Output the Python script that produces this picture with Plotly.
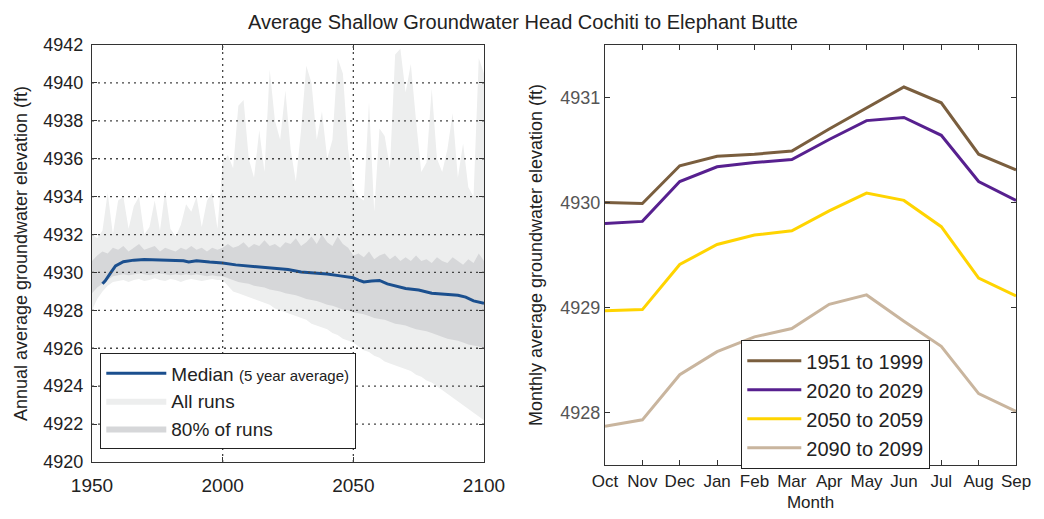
import plotly.graph_objects as go

# ---------------- Left panel data ----------------
median_years = [1954, 1955, 1957, 1959, 1962, 1966, 1970, 1975, 1980, 1985, 1987, 1989, 1990,
                1995, 2000, 2005, 2010, 2015, 2020, 2025, 2030, 2035, 2040, 2045, 2050, 2052,
                2054, 2057, 2060, 2063, 2066, 2070, 2075, 2080, 2085, 2090, 2093, 2096, 2100]
median_vals = [4929.4, 4929.55, 4929.95, 4930.35, 4930.57, 4930.65, 4930.69, 4930.68, 4930.66,
               4930.62, 4930.55, 4930.6, 4930.62, 4930.55, 4930.5, 4930.4, 4930.33, 4930.28,
               4930.22, 4930.15, 4930.03, 4929.97, 4929.92, 4929.82, 4929.72, 4929.6, 4929.5,
               4929.55, 4929.58, 4929.4, 4929.28, 4929.15, 4929.07, 4928.9, 4928.85, 4928.8,
               4928.7, 4928.5, 4928.37]

band_years = list(range(1950, 2101, 2))
all_upper = [4932.0, 4931.8, 4932.2, 4934.2, 4932.0, 4933.8, 4934.0, 4932.3, 4933.5, 4934.0,
             4932.0, 4932.4, 4933.8, 4932.2, 4934.3, 4932.3, 4931.9, 4932.5, 4933.6, 4933.2,
             4934.0, 4932.4, 4933.8, 4934.2, 4932.3, 4935.8, 4936.2, 4935.5, 4938.8, 4939.1,
             4936.0, 4935.0, 4937.5, 4935.3, 4940.7, 4938.0, 4937.0, 4939.6, 4936.5, 4934.8,
             4937.5, 4940.9, 4940.0, 4937.0, 4938.5, 4936.0, 4937.0, 4941.3, 4940.5, 4936.5,
             4934.5, 4934.0, 4933.8, 4939.0, 4933.2, 4937.6, 4937.2, 4935.5, 4941.5, 4941.8,
             4939.5, 4941.0, 4938.0, 4935.3, 4935.8, 4939.7, 4936.0, 4935.3, 4936.5, 4938.4,
             4935.0, 4936.8, 4934.5, 4934.0, 4941.3, 4940.5]
all_lower = [4928.0, 4928.6, 4929.0, 4929.3, 4929.5, 4929.55, 4929.6, 4929.5, 4929.6, 4929.65,
             4929.55, 4929.6, 4929.7, 4929.6, 4929.55, 4929.65, 4929.6, 4929.5, 4929.6, 4929.65,
             4929.6, 4929.55, 4929.6, 4929.65, 4929.6, 4929.6, 4929.3, 4929.0, 4928.9, 4928.8,
             4928.7, 4928.6, 4928.5, 4928.4, 4928.3, 4928.1, 4928.0, 4927.9, 4927.8, 4927.7,
             4927.6, 4927.5, 4927.3, 4927.2, 4927.1, 4927.0, 4926.8, 4926.7, 4926.5, 4926.4,
             4926.3, 4926.1, 4925.9, 4925.8, 4925.6, 4925.5, 4925.3, 4925.2, 4925.1, 4925.0,
             4924.9, 4924.8, 4924.6, 4924.5, 4924.3, 4924.2, 4924.0, 4923.8, 4923.6, 4923.4,
             4923.2, 4923.0, 4922.8, 4922.6, 4922.4, 4922.2]
p80_upper = [4930.6, 4930.9, 4931.1, 4931.0, 4931.3, 4931.2, 4931.4, 4931.1, 4931.3, 4931.5,
             4931.2, 4931.3, 4931.4, 4931.1, 4931.3, 4931.2, 4931.1, 4931.3, 4931.2, 4931.4,
             4931.2, 4931.3, 4931.1, 4931.3, 4931.2, 4931.3, 4931.5, 4931.3, 4931.4, 4931.6,
             4931.3, 4931.5, 4931.4, 4931.7, 4931.4, 4931.5, 4931.3, 4931.6, 4931.5, 4931.8,
             4931.4, 4931.6, 4931.9, 4931.5, 4932.0, 4931.6, 4931.4, 4931.9, 4931.5, 4931.3,
             4930.9, 4931.0, 4930.8, 4931.1, 4930.7, 4930.9, 4931.0, 4930.7, 4930.9, 4930.6,
             4930.8, 4930.6, 4930.9, 4930.6, 4930.7, 4930.5, 4930.8, 4930.6, 4930.5, 4930.8,
             4930.6, 4930.4, 4930.7, 4930.5, 4931.0, 4930.6]
p80_lower = [4928.9, 4929.2, 4929.4, 4929.6, 4929.8, 4929.85, 4929.9, 4929.85, 4929.9, 4929.95,
             4929.9, 4929.85, 4929.9, 4929.95, 4929.9, 4929.85, 4929.9, 4929.85, 4929.9, 4929.85,
             4929.9, 4929.85, 4929.8, 4929.85, 4929.8, 4929.8, 4929.7, 4929.6, 4929.5, 4929.45,
             4929.4, 4929.3, 4929.25, 4929.2, 4929.1, 4929.05, 4929.0, 4928.9, 4928.85, 4928.8,
             4928.7, 4928.6, 4928.55, 4928.5, 4928.4, 4928.3, 4928.25, 4928.15, 4928.05, 4928.0,
             4927.9, 4927.85, 4927.8, 4927.7, 4927.6, 4927.55, 4927.5, 4927.4, 4927.3, 4927.25,
             4927.2, 4927.1, 4927.0, 4926.95, 4926.9, 4926.8, 4926.7, 4926.6, 4926.5, 4926.45,
             4926.4, 4926.3, 4926.2, 4926.15, 4926.1, 4926.0]

left_xticks = [1950, 2000, 2050, 2100]
left_yticks = list(range(4920, 4943, 2))

# ---------------- Right panel data ----------------
months = ["Oct", "Nov", "Dec", "Jan", "Feb", "Mar", "Apr", "May", "Jun", "Jul", "Aug", "Sep"]
s_1951_1999 = [4930.00, 4929.99, 4930.35, 4930.44, 4930.46, 4930.49, 4930.70, 4930.90, 4931.10, 4930.95, 4930.46, 4930.31]
s_2020_2029 = [4929.80, 4929.82, 4930.20, 4930.34, 4930.38, 4930.41, 4930.60, 4930.78, 4930.81, 4930.64, 4930.20, 4930.02]
s_2050_2059 = [4928.97, 4928.98, 4929.41, 4929.60, 4929.69, 4929.73, 4929.92, 4930.09, 4930.02, 4929.77, 4929.28, 4929.11]
s_2090_2099 = [4927.87, 4927.93, 4928.36, 4928.58, 4928.72, 4928.80, 4929.03, 4929.12, 4928.87, 4928.63, 4928.18, 4928.01]
right_series = [("1951 to 1999", s_1951_1999, "#7A5E3E"),
                ("2020 to 2029", s_2020_2029, "#57208F"),
                ("2050 to 2059", s_2050_2059, "#FFD400"),
                ("2090 to 2099", s_2090_2099, "#C9B59E")]
right_yticks = [4928, 4929, 4930, 4931]

FONT = "Liberation Sans, Arial, sans-serif"
LIGHT = "#EDEEEE"
DARK = "#D6D7D9"

fig = go.Figure()

# All runs band
fig.add_trace(go.Scatter(x=band_years, y=all_lower, mode="lines", line=dict(width=0),
                         showlegend=False, hoverinfo="skip", xaxis="x", yaxis="y"))
fig.add_trace(go.Scatter(x=band_years, y=all_upper, mode="lines", line=dict(width=0),
                         fill="tonexty", fillcolor=LIGHT, name="All runs",
                         legend="legend", legendrank=2, xaxis="x", yaxis="y"))
# 80% band
fig.add_trace(go.Scatter(x=band_years, y=p80_lower, mode="lines", line=dict(width=0),
                         showlegend=False, hoverinfo="skip", xaxis="x", yaxis="y"))
fig.add_trace(go.Scatter(x=band_years, y=p80_upper, mode="lines", line=dict(width=0),
                         fill="tonexty", fillcolor=DARK, name="80% of runs",
                         legend="legend", legendrank=3, xaxis="x", yaxis="y"))
# Median
fig.add_trace(go.Scatter(x=median_years, y=median_vals, mode="lines",
                         line=dict(color="#1B4F8E", width=3),
                         name="Median <span style='font-size:15px'>(5 year average)</span>",
                         legend="legend", legendrank=1, xaxis="x", yaxis="y"))

# Right panel
for name, vals, col in right_series:
    fig.add_trace(go.Scatter(x=months, y=vals, mode="lines", line=dict(color=col, width=3),
                             name=name, legend="legend2", xaxis="x2", yaxis="y2"))

# Dotted grid on top of bands (left panel)
grid_line = dict(color="#444", width=1.3, dash="2px,4px")
for v in left_yticks[1:-1]:
    fig.add_shape(type="line", xref="x domain", x0=0, x1=1, yref="y", y0=v, y1=v,
                  line=grid_line, layer="above")
for v in left_xticks[1:-1]:
    fig.add_shape(type="line", yref="y domain", y0=0, y1=1, xref="x", x0=v, x1=v,
                  line=grid_line, layer="above")

# Page body adds an 8 px offset; targets below are screen pixels.
OFF = 8
W, H = 1044, 519
ml, mr, mt, mb = 84, 36, 37, 62
pw, ph = W - ml - mr, H - mt - mb

def dx(px):
    return (px - OFF - ml) / pw

def dy(py):
    return (H - mb - (py - OFF)) / ph

axis_common = dict(showline=True, linecolor="#333", linewidth=1.2, mirror="ticks",
                   ticks="inside", ticklen=5, tickcolor="#333", showgrid=False,
                   zeroline=False, automargin=False)

fig.update_layout(
    width=W, height=H,
    margin=dict(l=ml, r=mr, t=mt, b=mb, autoexpand=False),
    paper_bgcolor="white", plot_bgcolor="white",
    font=dict(family=FONT, color="#222"),
    title=dict(text="Average Shallow Groundwater Head Cochiti to Elephant Butte",
               x=(523 - OFF) / W, xanchor="center", y=1 - 14 / H, yanchor="middle",
               font=dict(size=20, color="#222", family=FONT)),
    xaxis=dict(domain=[dx(92), dx(484)], range=[1950, 2100], tickvals=left_xticks,
               tickfont=dict(size=19, color="#222"), anchor="y", ticklabelstandoff=6,
               **axis_common),
    yaxis=dict(domain=[dy(462), dy(45)], range=[4920, 4942], tickvals=left_yticks,
               tickfont=dict(size=18, color="#222"), anchor="x", ticklabelstandoff=4,
               title=dict(text="Annual average groundwater elevation (ft)",
                          font=dict(size=18, color="#222"), standoff=10),
               **axis_common),
    xaxis2=dict(domain=[dx(605), dx(1016)], type="category", range=[0, 11],
                tickfont=dict(size=17, color="#222"), anchor="y2",
                title=dict(text="Month", font=dict(size=17, color="#222"), standoff=6),
                **axis_common),
    yaxis2=dict(domain=[dy(465), dy(45)], range=[4927.5, 4931.5], tickvals=right_yticks,
                tickfont=dict(size=18, color="#555"), anchor="x2",
                title=dict(text="Monthly average groundwater elevation (ft)",
                           font=dict(size=18, color="#222"), standoff=12),
                **axis_common),
    legend=dict(x=dx(100), y=dy(353), xanchor="left", yanchor="top",
                bgcolor="white", bordercolor="#222", borderwidth=1.3,
                font=dict(size=19, color="#222", family=FONT), itemwidth=60,
                tracegroupgap=0, traceorder="normal"),
    legend2=dict(x=dx(741), y=dy(340), xanchor="left", yanchor="top",
                 bgcolor="white", bordercolor="#222", borderwidth=1.3,
                 font=dict(size=20, color="#222", family=FONT), itemwidth=54,
                 tracegroupgap=0),
    showlegend=True,
)

fig.write_html("out.html")
